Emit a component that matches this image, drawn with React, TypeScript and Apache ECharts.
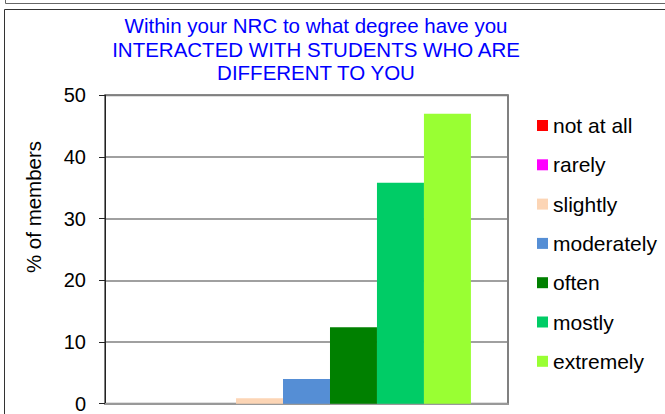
import React, { useEffect, useRef } from "react";
import * as echarts from "echarts";

const categories = ["Interacted with students who are different"];
const seriesNames = ["not at all", "rarely", "slightly", "moderately", "often", "mostly", "extremely"];
const seriesValues = [0, 0, 0.9, 4.0, 12.4, 35.8, 47.0];
const seriesColors = ["#FF0000", "#FF00FF", "#FCD5B5", "#558ED5", "#008000", "#00CC66", "#99FF33"];
const yTicks = [0, 10, 20, 30, 40, 50];
const titleLines = [
  "Within your NRC to what degree have you",
  "INTERACTED WITH STUDENTS WHO ARE",
  "DIFFERENT TO YOU",
];
const yAxisName = "% of members";

const FONT = "'Liberation Sans', Arial, sans-serif";

export default function App() {
  const ref = useRef<HTMLDivElement>(null);
  useEffect(() => {
    if (!ref.current) return;
    const chart = echarts.init(ref.current, undefined, { renderer: "svg" });
    chart.setOption({
      animation: false,
      backgroundColor: "#ffffff",
      textStyle: { fontFamily: FONT },
      graphic: [
        {
          type: "rect",
          shape: { x: 5.5, y: -10, width: 700, height: 13.5 },
          style: { fill: "none", stroke: "#666", lineWidth: 1 },
          silent: true,
        },
        {
          type: "rect",
          shape: { x: 4.5, y: 9.5, width: 700, height: 500 },
          style: { fill: "none", stroke: "#333", lineWidth: 1 },
          silent: true,
        },
        {
          type: "text",
          x: 316,
          y: 14,
          style: {
            text: titleLines.join("\n"),
            fill: "#0000FF",
            font: `20.5px ${FONT}`,
            textAlign: "center",
            textVerticalAlign: "top",
            lineHeight: 23.4,
          },
          silent: true,
        },
        {
          type: "text",
          x: 33,
          y: 207,
          rotation: Math.PI / 2,
          style: {
            text: yAxisName,
            fill: "#000",
            font: `20.5px ${FONT}`,
            textAlign: "center",
            textVerticalAlign: "middle",
          },
          silent: true,
        },
      ],
      legend: {
        orient: "vertical",
        left: 532,
        top: 110,
        itemWidth: 11,
        itemHeight: 11,
        itemGap: 18.3,
        icon: "rect",
        data: seriesNames,
        textStyle: { fontSize: 21, color: "#000", fontFamily: FONT, lineHeight: 20.4 },
      },
      grid: {
        left: 105,
        top: 95.2,
        width: 403,
        height: 308.5,
        show: true,
        borderColor: "#808080",
        borderWidth: 2,
        backgroundColor: "transparent",
      },
      xAxis: {
        type: "category",
        data: categories,
        axisLabel: { show: false },
        axisTick: { show: false },
        axisLine: { show: true, lineStyle: { color: "#999", width: 2 } },
      },
      yAxis: {
        type: "value",
        min: 0,
        max: 50,
        interval: 10,
        axisLine: { show: true, lineStyle: { color: "#222", width: 1 } },
        axisTick: { show: true, length: 6, lineStyle: { color: "#222" } },
        splitLine: { show: true, lineStyle: { color: "#808080", width: 1.5 } },
        axisLabel: {
          fontSize: 20,
          color: "#000",
          fontFamily: FONT,
          margin: 19,
          formatter: (v: number) => (yTicks.includes(v) ? String(v) : ""),
        },
      },
      series: seriesNames.map((name, i) => ({
        name,
        type: "bar",
        data: [seriesValues[i]],
        barGap: "0%",
        barCategoryGap: "18.4%",
        itemStyle: { color: seriesColors[i] },
      })),
    });
    return () => chart.dispose();
  }, []);
  return (
    <div
      ref={ref}
      style={{ position: "absolute", left: 0, top: 0, width: 665, height: 414 }}
    />
  );
}
